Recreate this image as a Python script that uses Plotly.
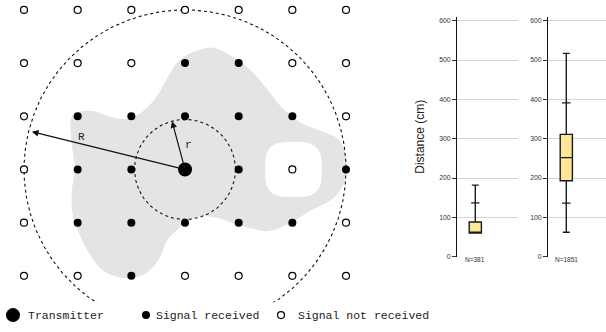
import numpy as np
import plotly.graph_objects as go

# ---------------- data ----------------
# grid of receiver positions (col, row); 1 = signal received, 0 = not received, 2 = transmitter
grid_status = [
    [0, 0, 0, 0, 0, 0, 0],
    [0, 0, 0, 1, 1, 0, 0],
    [0, 1, 1, 1, 1, 1, 0],
    [0, 1, 1, 2, 1, 0, 1],
    [0, 1, 1, 1, 1, 1, 0],
    [0, 0, 1, 0, 0, 0, 0],
]
transmitter = (3, 3)
R_radius = 3.0
r_radius = 0.94
R_angle_deg = 194.0
r_angle_deg = 255.1

# coverage region outline (grid units)
blob_x = [0.89, 1.04, 1.29, 1.60, 1.92, 2.22, 2.48, 2.66, 2.91, 3.28, 3.52, 3.89, 4.21, 4.53,
          4.83, 5.14, 5.57, 5.89, 6.02, 5.98, 5.76, 5.33, 4.90, 4.53, 4.21, 3.89, 3.60, 3.28,
          3.04, 2.85, 2.66, 2.53, 2.29, 2.03, 1.79, 1.47, 1.23, 1.04, 0.91, 0.89, 0.95, 0.89]
blob_y = [2.01, 1.92, 1.90, 2.01, 2.05, 1.90, 1.62, 1.30, 0.93, 0.75, 0.71, 0.88, 1.12, 1.49,
          1.86, 2.11, 2.29, 2.46, 2.93, 3.22, 3.54, 3.78, 4.04, 4.16, 4.10, 4.01, 3.91, 3.88,
          3.97, 4.14, 4.34, 4.66, 4.94, 5.03, 5.03, 4.90, 4.60, 4.23, 3.86, 3.41, 2.98, 2.52]
hole_center = (5.02, 3.0)
hole_half = (0.53, 0.52)

# box-plot statistics (cm)
box_labels = ["N=381", "N=1851"]
box_q1 = [60, 193]
box_median = [61, 252]
box_q3 = [88, 311]
box_low = [60, 62]
box_high = [182, 517]
box_p_ticks = [[137], [136, 391]]
y_ticks = [0, 100, 200, 300, 400, 500, 600]

legend_labels = ["Transmitter", "Signal received", "Signal not received"]

# ---------------- figure ----------------
fig = go.Figure()
S = 53.67  # px per grid unit
W, H = 606, 332

# coverage blob
fig.add_trace(go.Scatter(x=blob_x + [blob_x[0]], y=blob_y + [blob_y[0]], mode="lines",
                         line=dict(shape="spline", smoothing=1.0, width=0, color="#e4e4e4"),
                         fill="toself", fillcolor="#e4e4e4", hoverinfo="skip",
                         xaxis="x", yaxis="y"))
# hole (rounded square)
t = np.linspace(0, 2 * np.pi, 200)
n = 3.2
hx = hole_center[0] + hole_half[0] * np.sign(np.cos(t)) * np.abs(np.cos(t)) ** (2 / n)
hy = hole_center[1] + hole_half[1] * np.sign(np.sin(t)) * np.abs(np.sin(t)) ** (2 / n)
fig.add_trace(go.Scatter(x=hx, y=hy, mode="lines", line=dict(width=0, color="white"),
                         fill="toself", fillcolor="white", hoverinfo="skip",
                         xaxis="x", yaxis="y"))

# dashed circles
th = np.linspace(0, 2 * np.pi, 721)
for rad in (R_radius, r_radius):
    fig.add_trace(go.Scatter(x=transmitter[0] + rad * np.cos(th),
                             y=transmitter[1] + rad * np.sin(th), mode="lines",
                             line=dict(color="#111", width=1.1, dash="3px,3px"),
                             hoverinfo="skip", xaxis="x", yaxis="y"))

# grid markers
fx, fy, ox, oy = [], [], [], []
for row, vals in enumerate(grid_status):
    for col, v in enumerate(vals):
        if v == 1:
            fx.append(col); fy.append(row)
        elif v == 0:
            ox.append(col); oy.append(row)
fig.add_trace(go.Scatter(x=ox, y=oy, mode="markers",
                         marker=dict(size=7, color="white", line=dict(color="black", width=1.2)),
                         hoverinfo="skip", xaxis="x", yaxis="y"))
fig.add_trace(go.Scatter(x=fx, y=fy, mode="markers",
                         marker=dict(size=8, color="black"),
                         hoverinfo="skip", xaxis="x", yaxis="y"))
fig.add_trace(go.Scatter(x=[transmitter[0]], y=[transmitter[1]], mode="markers",
                         marker=dict(size=14, color="black"),
                         hoverinfo="skip", xaxis="x", yaxis="y"))

# legend (below diagram), on a pixel-scaled strip axis
leg_y = 318
leg_mx = [13, 146, 281]
leg_tx = [26, 154, 296]
leg_sizes = [14, 8, 7]
leg_fill = ["black", "black", "white"]
for mx, sz, fc in zip(leg_mx, leg_sizes, leg_fill):
    fig.add_trace(go.Scatter(x=[mx], y=[leg_y], mode="markers", cliponaxis=False,
                             marker=dict(size=sz, color=fc,
                                         line=dict(color="black", width=1.2 if fc == "white" else 0)),
                             hoverinfo="skip", xaxis="x4", yaxis="y4"))

annotations = []
mono = dict(family="Liberation Mono", size=11.5, color="#222")
for tx, lab in zip(leg_tx, legend_labels):
    annotations.append(dict(x=tx / W, y=(H - leg_y) / H, xref="paper", yref="paper", text=lab,
                            showarrow=False, xanchor="left", yanchor="middle", font=mono))

# arrows R and r
for rad, ang, shrink in ((R_radius, R_angle_deg, 0.06), (r_radius, r_angle_deg, 0.0)):
    a = np.deg2rad(ang)
    tipx = transmitter[0] + (rad - shrink) * np.cos(a)
    tipy = transmitter[1] + (rad - shrink) * np.sin(a)
    annotations.append(dict(x=tipx, y=tipy, ax=transmitter[0], ay=transmitter[1],
                            xref="x", yref="y", axref="x", ayref="y", text="",
                            showarrow=True, arrowhead=2, arrowsize=1.1, arrowwidth=1.2,
                            arrowcolor="#111", standoff=0, startstandoff=0))
annotations.append(dict(x=(81 - 24) / S, y=(138 - 10) / S, xref="x", yref="y", text="R",
                        showarrow=False, font=dict(family="Liberation Mono", size=11, color="#222")))
annotations.append(dict(x=(188 - 24) / S, y=(146 - 10) / S, xref="x", yref="y", text="r",
                        showarrow=False, font=dict(family="Liberation Mono", size=11, color="#222")))

# ---------------- box plots ----------------
box_fill = "#ffe699"
box_x = 0.3
for i in range(2):
    xa = "x2" if i == 0 else "x3"
    ya = "y2" if i == 0 else "y3"
    fig.add_trace(go.Box(x=[box_x], q1=[box_q1[i]], median=[box_median[i]], q3=[box_q3[i]],
                         lowerfence=[box_low[i]], upperfence=[box_high[i]],
                         width=0.2, whiskerwidth=0.57, fillcolor=box_fill,
                         line=dict(color="#1a1a1a", width=1.4), boxpoints=False,
                         hoverinfo="skip", xaxis=xa, yaxis=ya))
    pt = box_p_ticks[i]
    fig.add_trace(go.Scatter(x=[box_x] * len(pt), y=pt, mode="markers",
                             marker=dict(symbol="line-ew", size=6,
                                         line=dict(color="#1a1a1a", width=1.3)),
                             hoverinfo="skip", xaxis=xa, yaxis=ya))
    annotations.append(dict(x=box_x, y=(H - 267) / H, xref=xa, yref="paper",
                            text=box_labels[i], showarrow=False,
                            font=dict(family="Liberation Sans", size=6.5, color="#333")))

annotations.append(dict(x=429 / W, y=(H - 138) / H, xref="paper", yref="paper",
                        text="Distance (cm)", textangle=-90, showarrow=False,
                        font=dict(family="Liberation Sans", size=12, color="#222")))

box_y_dom = [(H - 259) / H, (H - 17) / H]
yaxis_box = dict(domain=box_y_dom, range=[0, 610], tickvals=y_ticks, showgrid=True,
                 gridcolor="#d3d3d3", gridwidth=1, zeroline=False, showline=True,
                 linecolor="#111", linewidth=1.2, ticks="outside", ticklen=4,
                 tickcolor="#333", tickwidth=1,
                 tickfont=dict(family="Liberation Sans", size=6.8, color="#333"), fixedrange=True)

fig.update_layout(
    width=W, height=H, margin=dict(l=0, r=0, t=0, b=0),
    paper_bgcolor="white", plot_bgcolor="rgba(0,0,0,0)", showlegend=False,
    xaxis=dict(domain=[0, 400 / W], range=[(0 - 24) / S, (400 - 24) / S], visible=False),
    yaxis=dict(domain=[(H - 305) / H, 1], range=[(305 - 10) / S, (0 - 10) / S], visible=False),
    xaxis2=dict(domain=[457 / W, 518 / W], range=[0, 1], visible=False, anchor="y2"),
    yaxis2=dict(anchor="x2", **yaxis_box),
    xaxis3=dict(domain=[548 / W, 1.0], range=[0, 58 / 61], visible=False, anchor="y3"),
    yaxis3=dict(anchor="x3", **yaxis_box),
    xaxis4=dict(domain=[0, 450 / W], range=[0, 450], visible=False, anchor="y4"),
    yaxis4=dict(domain=[0, (H - 306) / H], range=[H, 306], visible=False, anchor="x4"),
    annotations=annotations,
)

fig.write_html("out.html")
